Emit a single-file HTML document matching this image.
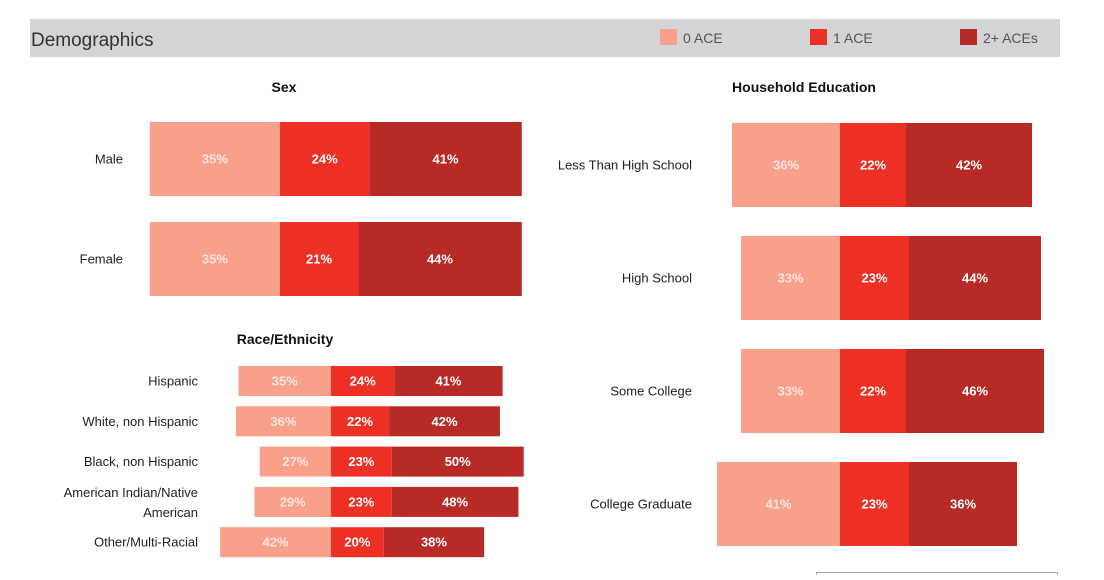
<!DOCTYPE html>
<html><head><meta charset="utf-8"><style>
body{margin:0;background:#fff;width:1104px;height:575px;overflow:hidden;font-family:"Liberation Sans",sans-serif}
svg text{font-family:"Liberation Sans",sans-serif}
</style></head><body>
<svg id="c" width="1104" height="575">
<rect x="30" y="19" width="1030" height="38" fill="#d3d4d6"/>
<text x="31" y="46" font-size="19" fill="#333">Demographics</text>
<g>
<rect x="660" y="29" width="17" height="16" fill="#f9a08a"/>
<text x="683" y="43" font-size="14" fill="#555">0 ACE</text>
<rect x="810" y="29" width="17" height="16" fill="#ee3024"/>
<text x="833" y="43" font-size="14" fill="#555">1 ACE</text>
<rect x="960" y="29" width="17" height="16" fill="#b82a26"/>
<text x="983" y="43" font-size="14" fill="#555">2+ ACEs</text>
</g>
<text x="284" y="92" font-size="14" font-weight="bold" text-anchor="middle" fill="#111">Sex</text>
<text x="285" y="344" font-size="14" font-weight="bold" text-anchor="middle" fill="#111">Race/Ethnicity</text>
<text x="804" y="92" font-size="14" font-weight="bold" text-anchor="middle" fill="#111">Household Education</text>
<rect x="816.5" y="572.5" width="241" height="10" fill="none" stroke="#aaa"/>
</svg>
<script>
const sexCats=["Male","Female"];
const sexA=[35,35];const sexB=[24,21];const sexC=[41,44];
const raceCats=["Hispanic","White, non Hispanic","Black, non Hispanic","American Indian/Native American","Other/Multi-Racial"];
const raceA=[35,36,27,29,42];const raceB=[24,22,23,23,20];const raceC=[41,42,50,48,38];
const eduCats=["Less Than High School","High School","Some College","College Graduate"];
const eduA=[36,33,33,41];const eduB=[22,23,22,23];const eduC=[42,44,46,36];
const colors=["#f9a08a","#ee3024","#b82a26"];
const svg=document.getElementById('c');
const NS="http://www.w3.org/2000/svg";
function mk(t,a){const e=document.createElementNS(NS,t);for(const k in a)e.setAttribute(k,a[k]);svg.appendChild(e);return e;}
function panel(key,cats,A,B,C,zero,scale,y0,step,h,labelX,fs){
  cats.forEach((cat,i)=>{
    const y=y0+i*step;
    const vals=[A[i],B[i],C[i]];
    let x=zero-A[i]*scale;
    vals.forEach((v,j)=>{
      const w=v*scale;
      const r=mk('rect',{x:x,y:y,width:w,height:h,fill:colors[j]});
      
      
      const t=mk('text',{x:x+w/2,y:y+h/2+4.5,'font-size':fs,'font-weight':'bold','text-anchor':'middle',fill:j==0?'#fde7e1':'#fff'});
      t.textContent=v+'%';
      
      
      x+=w;
    });
    const words=cat.length>25&&cat.includes('/')?[cat.split('/')[0]+'/Native','American']:[cat];
    words.forEach((wd,k)=>{
      const l=mk('text',{x:labelX,y:y+h/2+4.5+(words.length>1?(k*20-10+10):0),'font-size':13,'text-anchor':'end',fill:'#222'});
      if(words.length>1)l.setAttribute('y',y+h/2-1+k*20-4);
      l.textContent=wd;
      
      
    });
  });
}
panel('sex',sexCats,sexA,sexB,sexC,280,3.72,122,100,74,123,13);
panel('race',raceCats,raceA,raceB,raceC,331,2.64,366,40.3,30,198,13);
panel('edu',eduCats,eduA,eduB,eduC,840,3.0,123,113,84,692,13);
</script>
</body></html>
